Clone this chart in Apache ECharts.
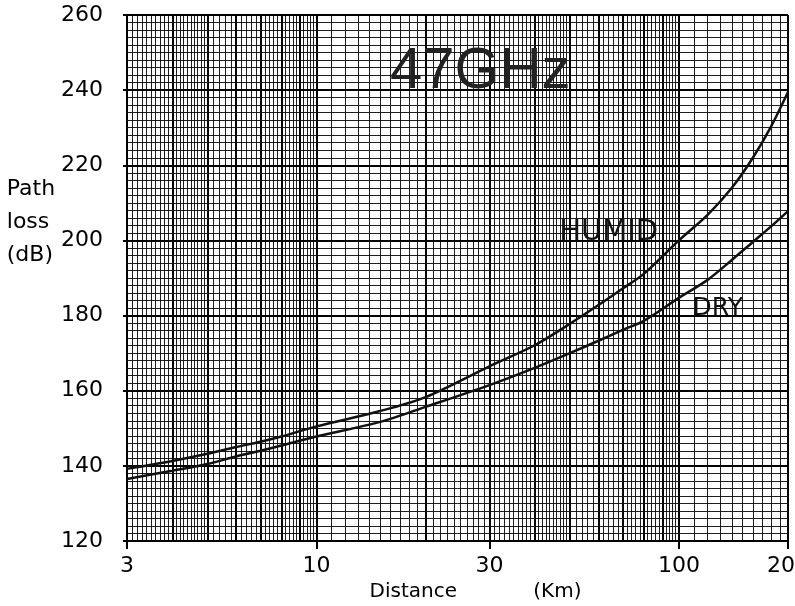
<!DOCTYPE html>
<html>
<head>
<meta charset="utf-8">
<script src="https://cdn.jsdelivr.net/npm/echarts@6/dist/echarts.min.js"></script>
<style>
  html, body { margin: 0; padding: 0; background: #fff; }
  #chart { width: 795px; height: 606px; }
</style>
</head>
<body>
<div id="chart"></div>
<script>
// Path loss at 47 GHz, humid vs dry air
const distanceKm = [3, 4, 5, 6, 7, 8, 10, 15, 20, 30, 40, 50, 60, 70, 80, 100, 120, 140, 160, 180, 200];
const humidLoss = [139.2, 141.3, 143.2, 145.0, 146.4, 147.8, 150.5, 154.6, 158.3, 166.5, 172.1, 177.8, 182.8, 187.2, 191.1, 200.0, 206.8, 214.0, 222.0, 230.5, 239.5];
const dryLoss = [136.5, 138.7, 140.5, 142.5, 144.0, 145.4, 147.8, 151.7, 155.7, 161.5, 166.1, 170.0, 173.3, 176.2, 178.6, 184.7, 189.5, 194.8, 199.6, 203.8, 207.8];
const xTickValues = [3, 10, 30, 100, 200];
const yMin = 120;
const yMax = 260;
const yStep = 20;

// graph-paper rulings (decorative, built from the paper's subdivisions)
function paperLines() {
  const minor = { color: '#111', width: 1, type: 'solid', opacity: 0.95 };
  const major = { color: '#000', width: 2, type: 'solid' };
  const lines = [];
  const addX = (v) => {
    const dec = v < 10 ? 1 : v < 100 ? 10 : 100;
    const isMajor = Math.abs(v - Math.round(v / dec) * dec) < 1e-6;
    lines.push({ xAxis: +v.toFixed(3), lineStyle: isMajor ? major : minor });
  };
  for (let v = 3; v < 5 - 1e-9; v += 0.1) addX(v);
  for (let v = 5; v < 10 - 1e-9; v += 0.2) addX(v);
  for (let v = 10; v < 50 - 1e-9; v += 1) addX(v);
  for (let v = 50; v < 100 - 1e-9; v += 2) addX(v);
  for (let v = 100; v <= 200 + 1e-9; v += 10) addX(v);
  for (let v = yMin; v <= yMax; v += 2) {
    lines.push({ yAxis: v, lineStyle: v % 20 === 0 ? major : minor });
  }
  return lines;
}

const font = 'DejaVu Sans';
const pairs = (ys) => distanceKm.map((x, i) => [x, ys[i]]);

const chart = echarts.init(document.getElementById('chart'));
chart.setOption({
  animation: false,
  backgroundColor: '#fff',
  title: {
    text: '47GHz',
    left: 385,
    top: 38,
    textStyle: { fontFamily: 'Liberation Sans', fontSize: 58, fontWeight: 'normal', color: '#222' }
  },
  grid: { left: 127, right: 7, top: 15, bottom: 65, containLabel: false, outerBoundsMode: 'none' },
  xAxis: {
    type: 'log',
    logBase: 10,
    min: 3,
    max: 200,
    name: 'Distance            (Km)',
    nameLocation: 'middle',
    nameGap: 26,
    nameTextStyle: { fontFamily: font, fontSize: 20, color: '#000', padding: [0, 0, 0, 36] },
    axisLine: { show: true, lineStyle: { color: '#000', width: 2 } },
    axisTick: { show: true, length: 8, inside: false, customValues: xTickValues, lineStyle: { color: '#000', width: 2 } },
    axisLabel: { fontFamily: font, fontSize: 22, color: '#000', margin: 14, customValues: xTickValues },
    splitLine: { show: false },
    minorSplitLine: { show: false }
  },
  yAxis: {
    type: 'value',
    min: yMin,
    max: yMax,
    interval: yStep,
    name: 'Path\nloss\n(dB)',
    nameLocation: 'middle',
    nameRotate: 0,
    nameGap: 117,
    nameTextStyle: { fontFamily: font, fontSize: 22, color: '#000', align: 'left', verticalAlign: 'bottom', lineHeight: 33, padding: [0, 0, 6, 0] },
    axisLine: { show: true, lineStyle: { color: '#000', width: 2 } },
    axisTick: { show: true, length: 4, lineStyle: { color: '#000', width: 2 } },
    axisLabel: { fontFamily: font, fontSize: 22, color: '#000', margin: 24 },
    splitLine: { show: false }
  },
  series: [
    {
      name: 'paper',
      type: 'line',
      data: [[3, yMin]],
      symbol: 'none',
      silent: true,
      z: 1,
      lineStyle: { width: 0 },
      markLine: {
        silent: true,
        symbol: ['none', 'none'],
        label: { show: false },
        animation: false,
        data: paperLines()
      }
    },
    {
      name: 'HUMID',
      type: 'line',
      data: pairs(humidLoss),
      smooth: 0.3,
      symbol: 'none',
      z: 5,
      lineStyle: { color: '#111', width: 2.5 },
      markPoint: {
        symbol: 'rect',
        symbolSize: 1,
        itemStyle: { color: 'rgba(0,0,0,0)' },
        label: { show: true, position: 'inside', formatter: 'HUMID', fontFamily: font, fontSize: 29, color: '#111' },
        data: [{ coord: [64, 202] }]
      }
    },
    {
      name: 'DRY',
      type: 'line',
      data: pairs(dryLoss),
      smooth: 0.3,
      symbol: 'none',
      z: 5,
      lineStyle: { color: '#111', width: 2.5 },
      markPoint: {
        symbol: 'rect',
        symbolSize: 1,
        itemStyle: { color: 'rgba(0,0,0,0)' },
        label: { show: true, position: 'inside', formatter: 'DRY', fontFamily: font, fontSize: 25, color: '#111' },
        data: [{ coord: [128, 182] }]
      }
    }
  ]
});
</script>
</body>
</html>
